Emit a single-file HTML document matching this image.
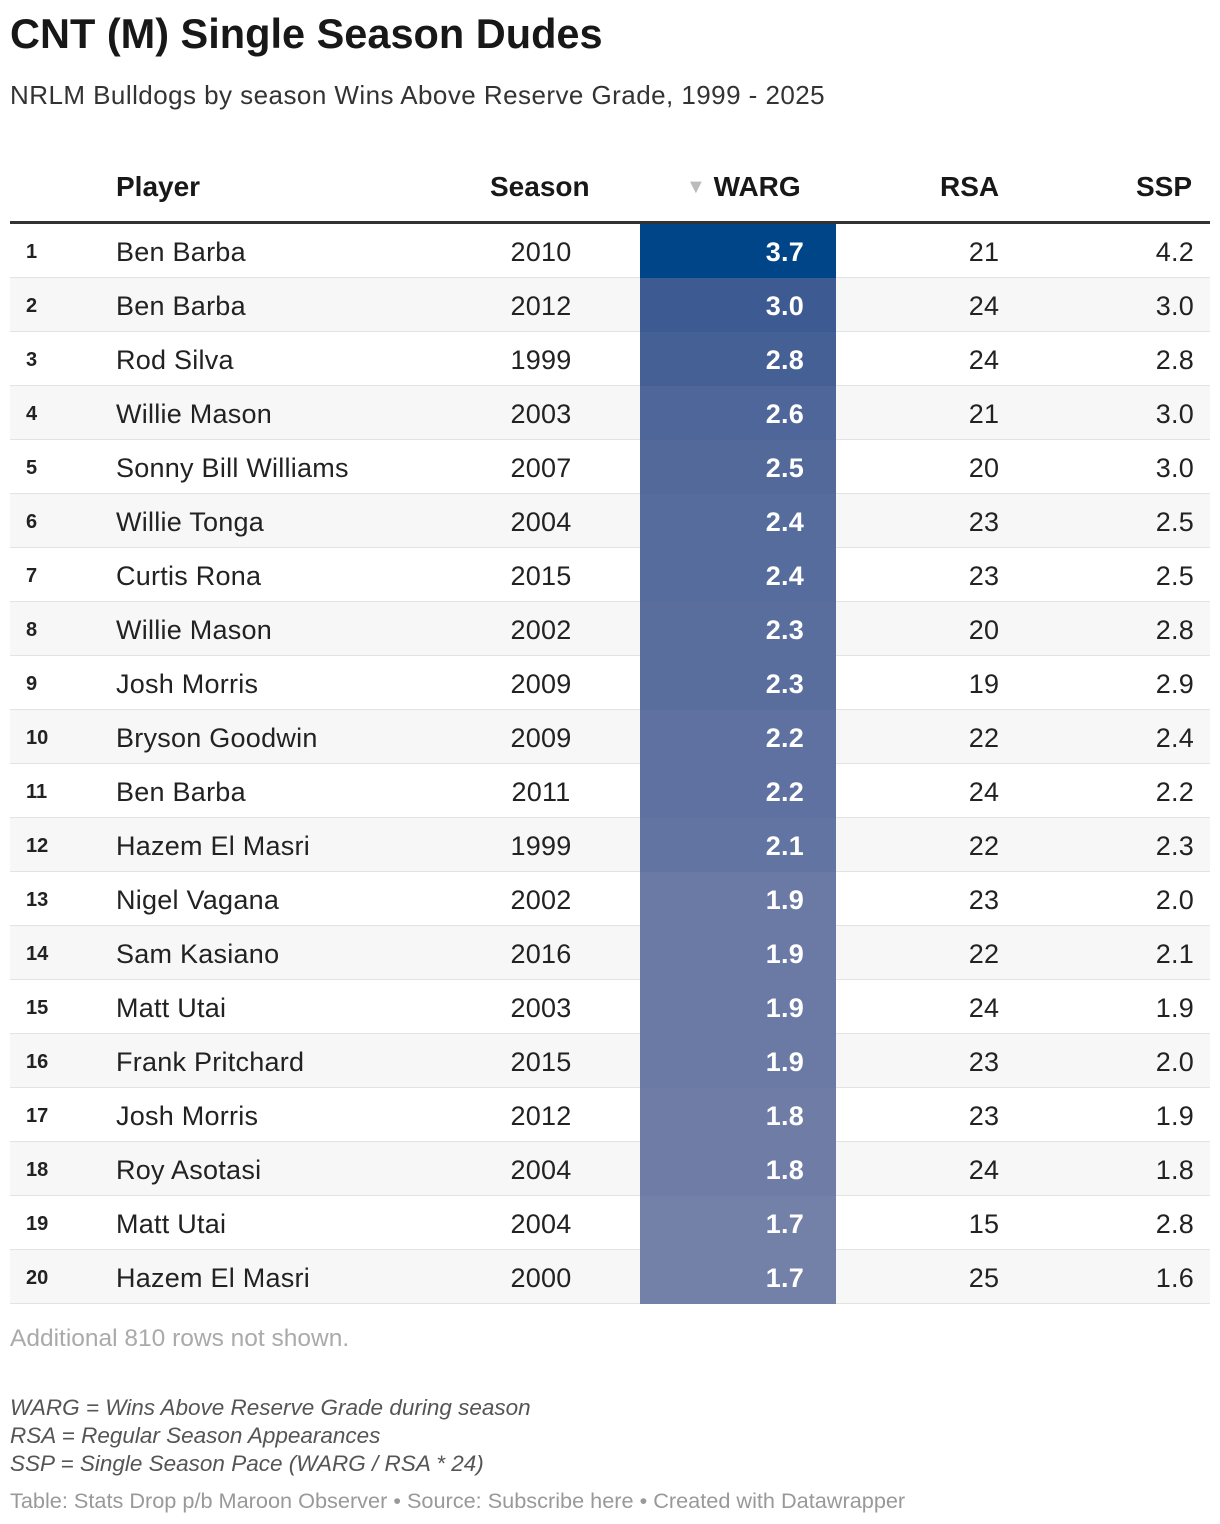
<!DOCTYPE html>
<html><head><meta charset="utf-8"><style>
body{margin:0;width:1220px;height:1524px;background:#fff;font-family:"Liberation Sans",Roboto,sans-serif;color:#222;position:relative;overflow:hidden}
.abs{position:absolute;white-space:nowrap}
#title{left:10px;top:10px;font-size:41.5px;font-weight:bold;color:#181818}
#sub{left:10px;top:80px;font-size:26px;letter-spacing:0.45px;color:#333}
.hd{top:171px;font-size:28px;font-weight:bold;color:#181818}
#hline{left:10px;top:221px;width:1200px;height:3px;background:#333}
.row{position:absolute;left:10px;width:1200px;height:53px;border-bottom:1px solid #e3e3e3;font-size:27px;letter-spacing:0.25px}
.row div{position:absolute;top:13px;white-space:nowrap}
.rk{left:16px;font-size:20px;font-weight:bold;top:17px!important;letter-spacing:0}
.pl{left:106px}.se{left:470px;width:122px;text-align:center}
.wc{left:630px;width:196px;height:54px;top:0!important}
.wv{left:630px;width:164px;text-align:right;color:#fff;font-weight:bold}
.rs{left:924px;width:100px;text-align:center}.ss{right:16px;text-align:right}
.note{left:10px;font-size:22.5px;font-style:italic;color:#555}
</style></head><body>
<div class="abs" id="title">CNT (M) Single Season Dudes</div>
<div class="abs" id="sub">NRLM Bulldogs by season Wins Above Reserve Grade, 1999 - 2025</div>
<div class="abs hd" style="left:116px">Player</div>
<div class="abs hd" style="left:490px">Season</div>
<div class="abs hd" style="left:686px"><span style="color:#bbb;font-size:20px;vertical-align:3px">▼</span> WARG</div>
<div class="abs hd" style="left:940px">RSA</div>
<div class="abs hd" style="left:1136px">SSP</div>
<div class="abs" id="hline"></div>
<div id="rows"></div>
<div class="abs" style="left:10px;top:1325px;font-size:24.5px;color:#aaa">Additional 810 rows not shown.</div>
<div class="abs note" style="top:1395px">WARG = Wins Above Reserve Grade during season</div>
<div class="abs note" style="top:1423px">RSA = Regular Season Appearances</div>
<div class="abs note" style="top:1451px">SSP = Single Season Pace (WARG / RSA * 24)</div>
<div class="abs" style="left:10px;top:1488px;font-size:21.7px;color:#999">Table: Stats Drop p/b Maroon Observer • Source: Subscribe here • Created with Datawrapper</div>
<script>
const players=["Ben Barba","Ben Barba","Rod Silva","Willie Mason","Sonny Bill Williams","Willie Tonga","Curtis Rona","Willie Mason","Josh Morris","Bryson Goodwin","Ben Barba","Hazem El Masri","Nigel Vagana","Sam Kasiano","Matt Utai","Frank Pritchard","Josh Morris","Roy Asotasi","Matt Utai","Hazem El Masri"];
const seasons=[2010,2012,1999,2003,2007,2004,2015,2002,2009,2009,2011,1999,2002,2016,2003,2015,2012,2004,2004,2000];
const warg=[3.7,3.0,2.8,2.6,2.5,2.4,2.4,2.3,2.3,2.2,2.2,2.1,1.9,1.9,1.9,1.9,1.8,1.8,1.7,1.7];
const rsa=[21,24,24,21,20,23,23,20,19,22,24,22,23,22,24,23,23,24,15,25];
const ssp=[4.2,3.0,2.8,3.0,3.0,2.5,2.5,2.8,2.9,2.4,2.2,2.3,2.0,2.1,1.9,2.0,1.9,1.8,2.8,1.6];
function col(v){const a=[0,69,135],b=[61,90,146],c=[115,128,168];let p,q,t;
 if(v>=3.0){t=(3.7-v)/0.7;p=a;q=b}else{t=Math.min(1,(3.0-v)/1.3);p=b;q=c}
 return 'rgb('+p.map((x,i)=>Math.round(x+(q[i]-x)*t)).join(',')+')'}
const R=document.getElementById('rows');
warg.forEach((w,i)=>{
 const r=document.createElement('div');r.className='row';
 
 
 r.style.top=(224+i*54)+'px';r.style.background=i%2?'#f7f7f7':'#fff';
 r.innerHTML=`<div class="wc" style="background:${col(w)}"></div><div class="rk">${i+1}</div><div class="pl">${players[i]}</div><div class="se">${seasons[i]}</div><div class="wv">${w.toFixed(1)}</div><div class="rs">${rsa[i]}</div><div class="ss">${ssp[i].toFixed(1)}</div>`;
 R.appendChild(r);
});
</script>
</body></html>
